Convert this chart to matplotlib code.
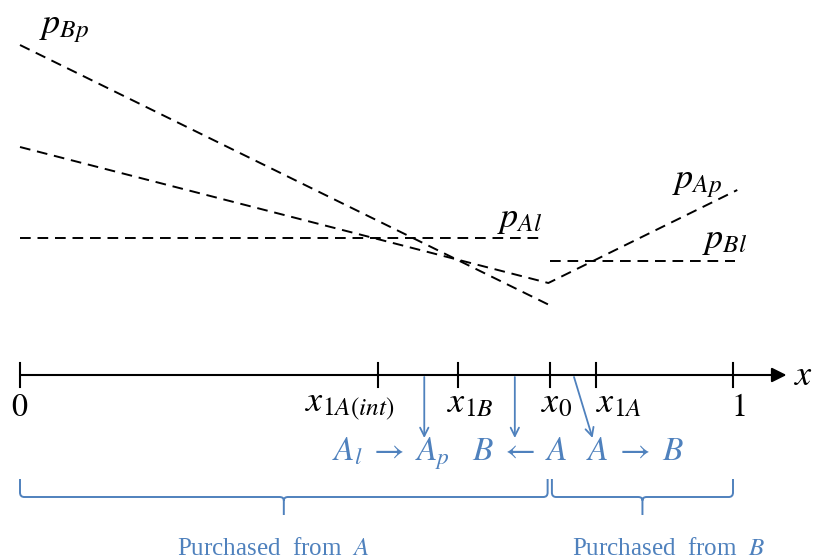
import matplotlib
matplotlib.use('Agg')
import matplotlib.pyplot as plt
from matplotlib.path import Path
from matplotlib.patches import PathPatch

plt.rcParams['mathtext.fontset'] = 'stix'

BLUE = '#4f81bd'

# positions on the x axis (0..1) and their labels
mark_x = [0, 0.502, 0.614, 0.743, 0.808, 1]
mark_labels = ['$0$', '$x_{1A(int)}$', '$x_{1B}$', '$x_0$', '$x_{1A}$', '$1$']
mark_label_x = [0.0, 0.463, 0.631, 0.752, 0.840, 1.007]

# price curves (y = price in arbitrary units above the axis)
pBp_x = [0, 0.748]
pBp_y = [332, 70]
pAp_x = [0, 0.741, 1.006]
pAp_y = [230, 94, 187]
pAl_x = [0, 0.736]
pAl_y = [139, 139]
pBl_x = [0.743, 1.003]
pBl_y = [116, 116]

# switching arrows
switch_x0 = [0.567, 0.694, 0.777]
switch_x1 = [0.567, 0.694, 0.803]
switch_labels = [r'$A_l\;\rightarrow\;A_p$', r'$B\;\leftarrow\;A$', r'$A\;\rightarrow\;B$']
switch_label_x = [0.520, 0.701, 0.863]

# braces
brace_ranges = [(0, 0.740), (0.746, 1.0)]
brace_texts = ['Purchased  from  $\\mathit{A}$', 'Purchased  from  $\\mathit{B}$']
brace_text_x = [0.355, 0.909]

fig = plt.figure(figsize=(8.14, 5.59), dpi=100)
ax = fig.add_axes([0, 0, 1, 1])
ax.set_xlim(-20 / 713, 794 / 713)
ax.set_ylim(377 - 559, 377)
ax.axis('off')

dash = dict(color='black', lw=1.4, linestyle=(0, (5.5, 3.5)))
ax.plot(pBp_x, pBp_y, **dash)
ax.plot(pAp_x, pAp_y, **dash)
ax.plot(pAl_x, pAl_y, **dash)
ax.plot(pBl_x, pBl_y, **dash)

tfs = 26
ax.text(0.026, 344, '$p_{Bp}$', fontsize=tfs, ha='left', va='baseline')
ax.text(0.669, 150, '$p_{Al}$', fontsize=tfs, ha='left', va='baseline')
ax.text(0.914, 189, '$p_{Ap}$', fontsize=tfs, ha='left', va='baseline')
ax.text(0.956, 129, '$p_{Bl}$', fontsize=tfs, ha='left', va='baseline')

# x axis with arrow
ax.annotate('', xy=(1.075, 2), xytext=(0, 2),
            arrowprops=dict(arrowstyle='-|>', color='black', lw=1.5,
                            mutation_scale=22, shrinkA=0, shrinkB=0))
ax.text(1.086, -8, '$x$', fontsize=tfs, ha='left', va='baseline')
for mx in mark_x:
    ax.plot([mx, mx], [14, -10], color='black', lw=1.5)
for lx, lab in zip(mark_label_x, mark_labels):
    fs = 23 if lab in ('$0$', '$1$') else tfs
    ax.text(lx, -39 if fs == 23 else -35, lab, fontsize=fs, ha='center', va='baseline')

# switching arrows
for x0, x1 in zip(switch_x0, switch_x1):
    ax.annotate('', xy=(x1, -61), xytext=(x0, 0),
                arrowprops=dict(arrowstyle='->', color=BLUE, lw=1.3,
                                mutation_scale=15, shrinkA=0, shrinkB=0))
for lx, lab in zip(switch_label_x, switch_labels):
    ax.text(lx, -83, lab, fontsize=24, color=BLUE, ha='center', va='baseline')


def brace(ax, xa, xb, ytop, ybar, ytip, color):
    xm = (xa + xb) / 2
    r = 0.006
    h = (ytop - ybar) * 0.25
    verts = [(xa, ytop), (xa, ybar + h), (xa, ybar), (xa + r, ybar),
             (xm - r, ybar), (xm, ybar), (xm, ybar - h * 0.8),
             (xm, ytip),
             (xm, ybar - h * 0.8), (xm, ybar), (xm + r, ybar),
             (xb - r, ybar), (xb, ybar), (xb, ybar + h), (xb, ytop)]
    codes = [Path.MOVETO, Path.LINETO, Path.CURVE3, Path.CURVE3,
             Path.LINETO, Path.CURVE3, Path.CURVE3,
             Path.LINETO,
             Path.MOVETO, Path.CURVE3, Path.CURVE3,
             Path.LINETO, Path.CURVE3, Path.CURVE3, Path.LINETO]
    ax.add_patch(PathPatch(Path(verts, codes), fill=False, ec=color, lw=1.4))


for (xa, xb), txt, tx in zip(brace_ranges, brace_texts, brace_text_x):
    brace(ax, xa, xb, -102, -120, -138, BLUE)
    ax.text(tx, -178, txt, fontsize=18, color=BLUE, ha='center', va='baseline',
            family='Liberation Serif')

fig.savefig('out.png', dpi=100)
